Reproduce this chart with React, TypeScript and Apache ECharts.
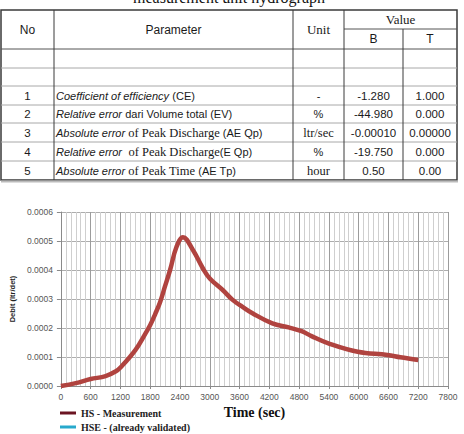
import React, { useEffect, useRef } from "react";
import * as echarts from "echarts";

// Hydrograph: measured discharge (ltr/det) against time (sec)
const timeSec = [0, 300, 600, 900, 1100, 1200, 1500, 1700, 1800, 1900, 2000, 2100, 2200, 2330, 2460, 2660, 2860, 3000, 3260, 3460, 3660, 3860, 4260, 4590, 4850, 5050, 5390, 5980, 6580, 6840, 7200];
const debitHS = [0, 0.00001, 0.000024, 0.000034, 0.00005, 0.000064, 0.000124, 0.00018, 0.00021, 0.000248, 0.00029, 0.000345, 0.0004, 0.00048, 0.000513, 0.000469, 0.000406, 0.000371, 0.000331, 0.000297, 0.000273, 0.000251, 0.000216, 0.000202, 0.000189, 0.000172, 0.000147, 0.000118, 0.000107, 0.000099, 0.00009];
const debitHSE: number[] = [];

// Summary table of goodness-of-fit parameters
const rowNo = ["1", "2", "3", "4", "5"];
const paramText = [
  "{i|Coefficient of efficiency} {n|(CE)}",
  "{i|Relative error} {n|dari Volume total (EV)}",
  "{i|Absolute error} {r|of Peak Discharge}{n| (AE Qp)}",
  "{i|Relative error}  {r|of Peak Discharge}{n|(E Qp)}",
  "{i|Absolute error} {r|of Peak Time}{n| (AE Tp)}",
];
const unitText = ["{n|-}", "{n|%}", "{r|ltr/sec}", "{n|%}", "{r|hour}"];
const valueB = ["-1.280", "-44.980", "-0.00010", "-19.750", "0.50"];
const valueT = ["1.000", "0.000", "0.00000", "0.000", "0.00"];

const SANS = "Liberation Sans";
const SERIF = "Liberation Serif";

const colX = [1, 54, 293, 344, 403, 457];
const rowY = [10, 29, 49, 68, 86, 105, 123, 142, 161, 180];

function line(x1: number, y1: number, x2: number, y2: number, stroke: string, w = 1) {
  return { type: "line", shape: { x1, y1, x2, y2 }, style: { stroke, lineWidth: w }, silent: true };
}

function txt(text: string, x: number, y: number, opts: any = {}) {
  return {
    type: "text",
    x,
    y,
    silent: true,
    style: {
      text,
      align: opts.align || "center",
      verticalAlign: "middle",
      fontFamily: opts.fontFamily || SANS,
      fontSize: opts.fontSize || 11.5,
      fontWeight: opts.fontWeight || "normal",
      fill: opts.fill || "#1a1a1a",
      rich: opts.rich,
    },
  };
}

const rich = {
  i: { fontFamily: SANS, fontStyle: "italic", fontSize: 11, fill: "#1a1a1a" },
  n: { fontFamily: SANS, fontSize: 11, fill: "#1a1a1a" },
  r: { fontFamily: SERIF, fontSize: 12.5, fill: "#1a1a1a" },
};

function buildTable() {
  const els: any[] = [];
  const top = rowY[0];
  const bottom = rowY[rowY.length - 1];
  els.push({ type: "rect", shape: { x: colX[0], y: top, width: colX[5] - colX[0], height: bottom - top }, style: { fill: "#fff", stroke: "#3a3a3a", lineWidth: 1.5 }, silent: true });
  // light row separators
  for (let k = 3; k < rowY.length - 1; k++) els.push(line(colX[0], rowY[k], colX[5], rowY[k], "#a8a8a8"));
  els.push(line(colX[0], rowY[2], colX[5], rowY[2], "#555"));
  els.push(line(colX[3], rowY[1], colX[5], rowY[1], "#555"));
  for (let c = 1; c <= 3; c++) els.push(line(colX[c], top, colX[c], bottom, "#3a3a3a"));
  els.push(line(colX[4], rowY[1], colX[4], bottom, "#3a3a3a"));
  // heavy bottom edge
  els.push(line(colX[0], bottom + 1.5, colX[5] + 1, bottom + 1.5, "#bbbbbb", 2));

  const headMid = (rowY[0] + rowY[2]) / 2;
  els.push(txt("No", (colX[0] + colX[1]) / 2, headMid, { fontSize: 12 }));
  els.push(txt("Parameter", (colX[1] + colX[2]) / 2, headMid, { fontSize: 12 }));
  els.push(txt("Unit", (colX[2] + colX[3]) / 2, headMid, { fontFamily: SERIF, fontSize: 13 }));
  els.push(txt("Value", (colX[3] + colX[5]) / 2, (rowY[0] + rowY[1]) / 2, { fontFamily: SERIF, fontSize: 13 }));
  els.push(txt("B", (colX[3] + colX[4]) / 2, (rowY[1] + rowY[2]) / 2, { fontSize: 12 }));
  els.push(txt("T", (colX[4] + colX[5]) / 2, (rowY[1] + rowY[2]) / 2, { fontSize: 12 }));

  rowNo.forEach((no, k) => {
    const y = (rowY[k + 4] + rowY[k + 5]) / 2;
    els.push(txt(no, (colX[0] + colX[1]) / 2, y));
    els.push(txt(paramText[k], colX[1] + 2, y, { align: "left", rich }));
    els.push(txt(unitText[k], (colX[2] + colX[3]) / 2, y, { rich }));
    els.push(txt(valueB[k], (colX[3] + colX[4]) / 2, y));
    els.push(txt(valueT[k], (colX[4] + colX[5]) / 2, y));
  });

  els.push(txt("measurement unit hydrograph", 229, -3, { fontFamily: SERIF, fontSize: 16, fill: "#111" }));
  return els;
}

const legendText = { fontFamily: SERIF, fontWeight: "bold", fontSize: 10, color: "#222" };

export default function App() {
  const ref = useRef<HTMLDivElement>(null);
  useEffect(() => {
    if (!ref.current) return;
    const chart = echarts.init(ref.current, null, { renderer: "svg" });
    chart.setOption({
      animation: false,
      backgroundColor: "#ffffff",
      grid: { left: 56, right: 16, top: 212, bottom: 48, containLabel: false },
      legend: [
        {
          left: 55,
          top: 403,
          itemWidth: 16,
          itemHeight: 3,
          icon: "rect",
          textStyle: legendText,
          data: [{ name: "HS - Measurement", itemStyle: { color: "#6b1422" } }],
        },
        {
          left: 55,
          top: 417,
          itemWidth: 16,
          itemHeight: 3,
          icon: "rect",
          textStyle: legendText,
          data: [{ name: "HSE - (already validated)", itemStyle: { color: "#27a9cc" } }],
        },
      ],
      xAxis: {
        type: "value",
        min: 0,
        max: 7800,
        interval: 600,
        name: "Time (sec)",
        nameLocation: "middle",
        nameGap: 19,
        nameTextStyle: { fontFamily: SERIF, fontWeight: "bold", fontSize: 14, color: "#111" },
        axisLine: { show: true, lineStyle: { color: "#8a8a8a" } },
        axisTick: { show: true, length: 3, lineStyle: { color: "#8a8a8a" } },
        axisLabel: { fontFamily: SANS, fontSize: 8.5, color: "#555", margin: 6, formatter: (v: number) => String(v) },
        splitLine: { show: true, lineStyle: { color: "#9c9c9c", width: 1 } },
        minorTick: { show: false, splitNumber: 6 },
        minorSplitLine: { show: true, lineStyle: { color: "#cfcfcf", width: 1 } },
      },
      yAxis: {
        type: "value",
        min: 0,
        max: 0.0006,
        interval: 0.0001,
        name: "Debit (ltr/det)",
        nameLocation: "middle",
        nameGap: 41,
        nameTextStyle: { fontFamily: SANS, fontWeight: "bold", fontSize: 7.5, color: "#222" },
        axisLine: { show: true, lineStyle: { color: "#8a8a8a" } },
        axisTick: { show: true, length: 4, lineStyle: { color: "#8a8a8a" } },
        axisLabel: { fontFamily: SANS, fontSize: 8.5, color: "#555", margin: 8, formatter: (v: number) => v.toFixed(4) },
        splitLine: { show: true, lineStyle: { color: "#adadad", width: 1 } },
      },
      series: [
        {
          name: "HS - Measurement",
          type: "line",
          smooth: 0.4,
          showSymbol: false,
          data: timeSec.map((t, k) => [t, debitHS[k]]),
          lineStyle: { color: "#b0433f", width: 4.5 },
          itemStyle: { color: "#b0433f" },
          z: 3,
        },
        {
          name: "HSE - (already validated)",
          type: "line",
          smooth: true,
          showSymbol: false,
          data: debitHSE,
          lineStyle: { color: "#27a9cc", width: 2 },
          itemStyle: { color: "#27a9cc" },
        },
      ],
      graphic: buildTable(),
    });
    return () => chart.dispose();
  }, []);
  return <div ref={ref} style={{ position: "absolute", left: 0, top: 0, width: 464, height: 434 }} />;
}
